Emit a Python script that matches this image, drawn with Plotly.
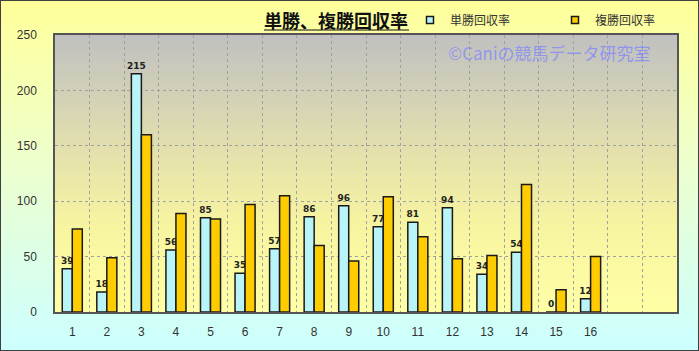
import base64
import plotly.graph_objects as go

categories = list(range(1, 19))
tick_labels = [str(i) for i in range(1, 17)]
win_rate = [39, 18, 215, 56, 85, 35, 57, 86, 96, 77, 81, 94, 34, 54, 0, 12]
place_rate = [75, 49, 160, 89, 84, 97, 105, 60, 46, 104, 68, 48, 51, 115, 20, 50]
series_names = ["単勝回収率", "複勝回収率"]
series_colors = ["#b8f4f8", "#ffcc00"]

W, H = 699, 351
L, R, T, B = 55, 22, 35, 39
pw, ph = W - L - R, H - T - B


def svg_uri(svg):
    return "data:image/svg+xml;base64," + base64.b64encode(svg.encode()).decode()


paper_svg = f'''<svg xmlns="http://www.w3.org/2000/svg" width="{W}" height="{H}" viewBox="0 0 {W} {H}" preserveAspectRatio="none">
<defs><linearGradient id="g" x1="0" y1="0" x2="0" y2="1">
<stop offset="0" stop-color="#ffff99"/><stop offset="0.45" stop-color="#eeffcc"/><stop offset="1" stop-color="#ccffff"/>
</linearGradient></defs>
<rect x="0" y="0" width="{W}" height="{H}" fill="url(#g)" stroke="#404040" stroke-width="2"/>
</svg>'''

plot_svg = f'''<svg xmlns="http://www.w3.org/2000/svg" width="{pw}" height="{ph}" viewBox="0 0 {pw} {ph}" preserveAspectRatio="none">
<defs><linearGradient id="p" x1="0" y1="0" x2="0" y2="1">
<stop offset="0" stop-color="#c0c0c0"/><stop offset="0.4" stop-color="#e2dfae"/><stop offset="0.7" stop-color="#f8f5a0"/><stop offset="1" stop-color="#ffffa6"/>
</linearGradient></defs>
<rect x="0" y="0" width="{pw}" height="{ph}" fill="url(#p)"/>
</svg>'''

fig = go.Figure()
fig.add_trace(go.Bar(
    x=categories[:len(win_rate)], y=win_rate, name=series_names[0], showlegend=False,
    marker=dict(color=series_colors[0], line=dict(color="#1a1a1a", width=1.5)),
    text=[str(v) for v in win_rate], textposition="outside", constraintext="none",
    textfont=dict(size=9, color="#222222", family="DejaVu Sans", weight="bold"),
    cliponaxis=False,
))
fig.add_trace(go.Bar(
    x=categories[:len(place_rate)], y=place_rate, name=series_names[1], showlegend=False,
    marker=dict(color=series_colors[1], line=dict(color="#1a1a1a", width=1.5)),
))
for name, color in zip(series_names, series_colors):
    fig.add_trace(go.Scatter(
        x=[None], y=[None], mode="markers", name=name,
        marker=dict(symbol="square", size=7, color=color, line=dict(color="#1a1a1a", width=1.5)),
    ))

fig.update_layout(
    width=W, height=H,
    margin=dict(l=L, r=R, t=T, b=B, pad=0, autoexpand=False),
    paper_bgcolor="rgba(0,0,0,0)",
    plot_bgcolor="rgba(0,0,0,0)",
    barmode="group", bargap=0.42, bargroupgap=0,
    font=dict(family="Liberation Sans, Noto Sans CJK JP", size=12, color="#333333"),
    showlegend=True,
    legend=dict(orientation="h", x=(410 - L) / pw, xanchor="left",
                y=(H - B - 20) / ph, yanchor="middle",
                bgcolor="rgba(0,0,0,0)",
                font=dict(size=12, color="#333333", family="Noto Sans CJK JP"),
                itemwidth=30, entrywidth=100, tracegroupgap=0),
    images=[
        dict(source=svg_uri(paper_svg), xref="paper", yref="paper",
             x=-L / pw, y=1 + T / ph, sizex=W / pw, sizey=H / ph,
             xanchor="left", yanchor="top", sizing="stretch", layer="below"),
        dict(source=svg_uri(plot_svg), xref="paper", yref="paper",
             x=0, y=1, sizex=1, sizey=1,
             xanchor="left", yanchor="top", sizing="stretch", layer="below"),
    ],
    annotations=[
        dict(text="<b>単勝、複勝回収率</b>", xref="paper", yref="paper",
             x=(336 - L) / pw, y=1 + (T - 20) / ph, xanchor="center", yanchor="middle",
             showarrow=False, font=dict(size=18, color="#111111", family="Noto Sans CJK JP")),
        dict(text="©Caniの競馬データ研究室", xref="paper", yref="paper",
             x=(549 - L) / pw, y=1 - (52 - T) / ph, xanchor="center", yanchor="middle",
             showarrow=False, font=dict(size=17, color="rgba(120,130,255,0.7)", family="Noto Sans CJK JP")),
    ],
    shapes=[
        dict(type="line", xref="paper", yref="paper",
             x0=(264 - L) / pw, x1=(409 - L) / pw,
             y0=1 + (T - 30) / ph, y1=1 + (T - 30) / ph,
             line=dict(color="#111111", width=1.2)),
    ],
)

fig.update_xaxes(
    range=[0.5, 18.5], tickmode="array", tickvals=categories[:16], ticktext=tick_labels,
    showgrid=False, zeroline=False, ticks="", ticklen=0, ticklabelstandoff=8,
    showline=True, linecolor="#555555", linewidth=1.5, mirror=True,
    tickfont=dict(size=12, color="#333333"),
    minor=dict(tickmode="array", tickvals=[c + 0.5 for c in categories[:-1]],
               showgrid=True, gridcolor="#a0a0a0", griddash="dot", gridwidth=1, ticks=""),
)
fig.update_yaxes(
    range=[0, 250], tickmode="linear", tick0=0, dtick=50,
    showgrid=True, gridcolor="#a0a0a0", griddash="dot", gridwidth=1,
    zeroline=False, ticks="", ticklabelstandoff=14,
    showline=True, linecolor="#555555", linewidth=1.5, mirror=True,
    tickfont=dict(size=12, color="#333333"),
)

fig.write_html("out.html")
